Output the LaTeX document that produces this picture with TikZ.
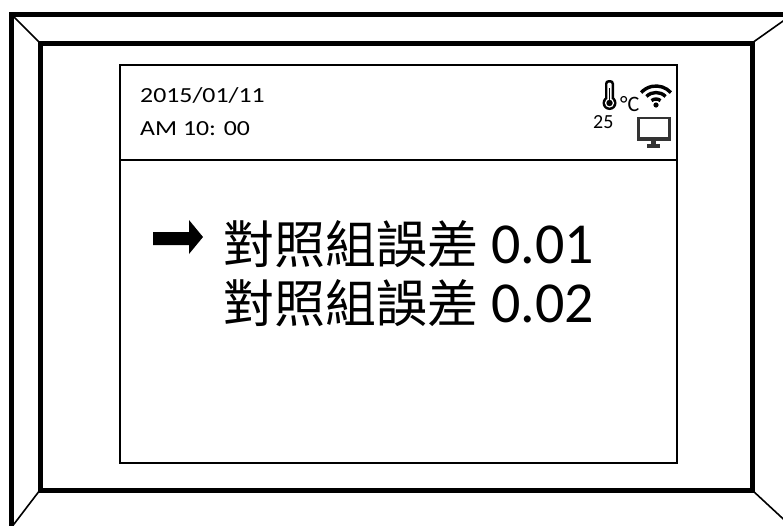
\documentclass[tikz,border=0pt]{standalone}
\usepackage{fontspec}
\setmainfont{Carlito}
\newfontfamily\widefont[FakeStretch=1.2]{Carlito}
\newfontfamily\cjk{Noto Sans CJK TC}
\begin{document}
\begin{tikzpicture}[x=1pt,y=-1pt,
		frame/.style={line width=5pt},
		bevel/.style={line width=1.6pt},
		panel/.style={line width=2.6pt},
		small/.style={anchor=base west,inner sep=0pt,font=\widefont\fontsize{21.5}{26}\selectfont},
		big/.style={anchor=base west,inner sep=0pt,font=\fontsize{58}{64}\selectfont},
		wave/.style={line width=3.4pt},
		icon/.style={draw=black!80,line width=2.2pt}]
		\useasboundingbox(0,0)rectangle(783,525);
		\clip(0,0)rectangle(783,525);
		\draw[frame](11,14)rectangle(793,528);
		\draw[frame](40,43)rectangle(752,490);
		\draw[bevel](11,14)--(40,43) (793,14)--(752,43) (793,528)--(752,490) (11,528)--(40,490);
		\draw[panel](120,65)rectangle(677,463);
		\draw[panel](120,160)--(677,160);
		\node[small](date)at(140,102){2015/01/11};
		\node[small](time)at(140,135){AM 10: 00};
		\fill[black](609.5,103)circle(7);
		\fill[black,rounded corners=3.5pt](605,103)--(605,80)--(614,80)--(614,103)--cycle;
		\fill[white](609.5,103)circle(4.6);
		\fill[white,rounded corners=1.5pt](607.3,103)--(607.3,82.5)--(611.7,82.5)--(611.7,103)--cycle;
		\fill[black](609.5,103)circle(3.2);
		\fill[black](608.6,103)rectangle(610.4,88);
		\node[anchor=base west,inner sep=0pt,font=\fontsize{22}{22}\selectfont](temp)at(620,111){°C};
		\node[anchor=base west,inner sep=0pt,font=\fontsize{20}{20}\selectfont](degree)at(593,128){25};
		\fill(656,105)circle(2.6);
		\draw[wave](656,106)++(-50:7)arc(-50:-130:7);
		\draw[wave](656,106)++(-45:13.5)arc(-45:-135:13.5);
		\draw[wave](656,106)++(-42:20)arc(-42:-138:20);
		\draw[icon](638.5,118)rectangle(669.5,139);
		\fill[black!80](637.4,137)rectangle(670.6,141);
		\fill[black!80](651,141)rectangle(656,144);
		\fill[black!80](647,144)rectangle(660,147.5);
		\fill(153,232)--(189,232)--(189,220)--(203,237)--(189,254)--(189,245)--(153,245)--cycle;
		\node[big](first)at(223,263){{\cjk\fontsize{51}{60}\selectfont 對照組誤差} 0.01};
		\node[big](second)at(223,322){{\cjk\fontsize{51}{60}\selectfont 對照組誤差} 0.02};
	\end{tikzpicture}
\end{document}
